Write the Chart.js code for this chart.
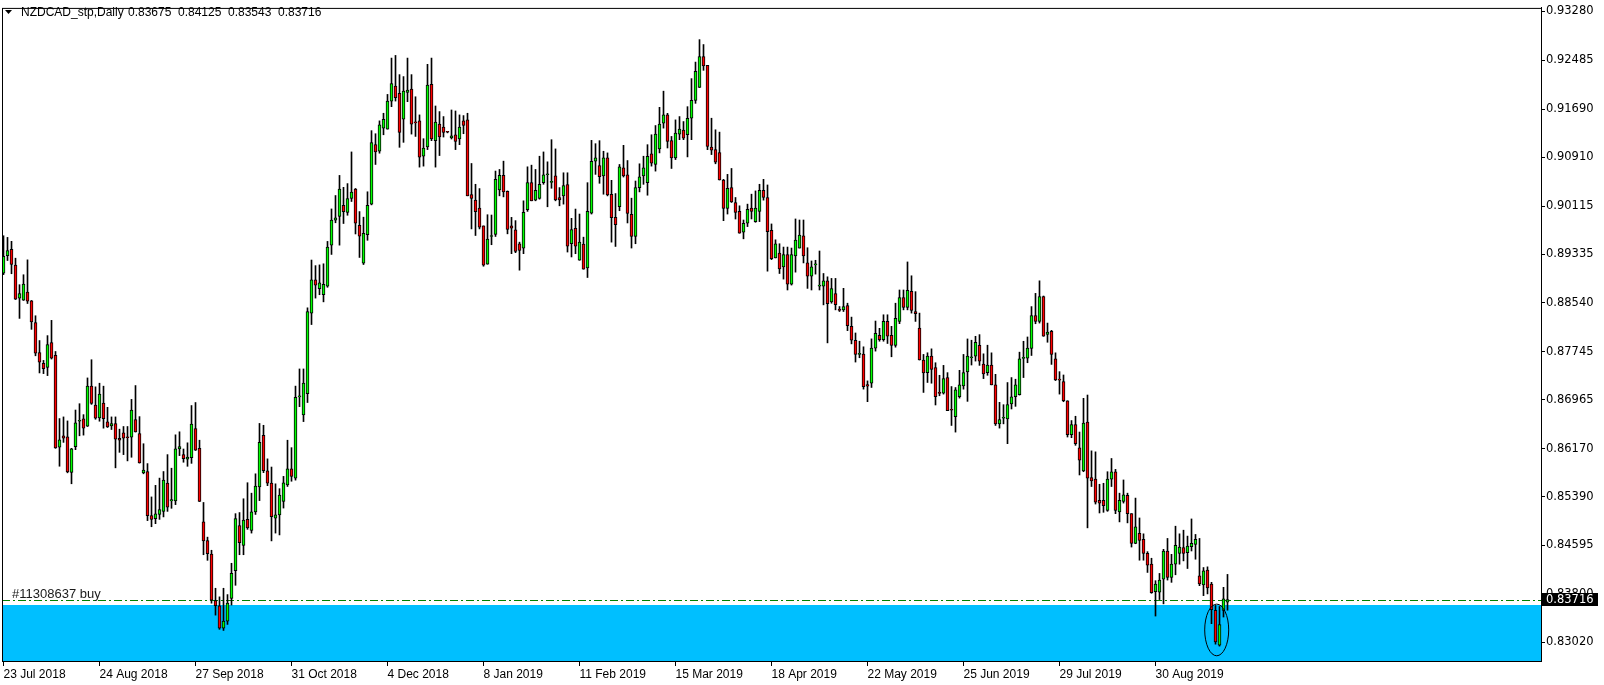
<!DOCTYPE html>
<html>
<head>
<meta charset="utf-8">
<title>NZDCAD_stp,Daily</title>
<script src="https://cdn.jsdelivr.net/npm/chart.js@4.4.1/dist/chart.umd.min.js"></script>
<style>
  html, body { margin: 0; padding: 0; background: #ffffff; }
  canvas { display: block; }
</style>
</head>
<body>
<canvas id="chart" width="1604" height="685"></canvas>
<script>
// Window title and the OHLC of the last bar
var symbolTitle = 'NZDCAD_stp,Daily';
var lastBarText = ['0.83675', '0.84125', '0.83543', '0.83716'];

// Daily candles from 23 Jul 2018 onwards
var openPrices = [
  0.89025,0.89310,0.89412,0.89154,0.88616,0.88584,0.88718,0.88573,0.88218,0.87734,
  0.87557,0.87492,0.87895,0.87686,0.86196,0.86379,0.86363,0.85782,0.86202,0.86616,
  0.86653,0.86535,0.87186,0.86879,0.86670,0.86911,0.86605,0.86540,0.86578,0.86336,
  0.86427,0.86363,0.86357,0.86643,0.86417,0.85777,0.85798,0.85080,0.85030,0.85100,
  0.85150,0.85610,0.85320,0.85320,0.86164,0.86073,0.85998,0.86022,0.86495,0.86174,
  0.84979,0.84676,0.84457,0.83700,0.83615,0.83250,0.83366,0.83736,0.84185,0.84919,
  0.84597,0.85022,0.84840,0.85143,0.85549,0.86386,0.85810,0.85610,0.85040,0.85094,
  0.85313,0.85580,0.85840,0.85689,0.87011,0.86720,0.87066,0.88375,0.88915,0.88770,
  0.88673,0.88812,0.89479,0.89886,0.89946,0.90128,0.90013,0.90237,0.90389,0.89801,
  0.89188,0.89649,0.90146,0.91113,0.91006,0.91382,0.91366,0.91822,0.92064,0.91946,
  0.91527,0.91962,0.92016,0.91479,0.91500,0.90925,0.91076,0.92096,0.91178,0.91446,
  0.91398,0.91319,0.91221,0.91274,0.91205,0.91500,0.91516,0.90302,0.90211,0.90082,
  0.89792,0.89169,0.89620,0.89652,0.90377,0.90614,0.90356,0.89792,0.89727,0.89502,
  0.89432,0.90055,0.90495,0.90211,0.90238,0.90495,0.90624,0.90501,0.90608,0.90254,
  0.90280,0.90463,0.89502,0.89754,0.89233,0.89496,0.89109,0.90001,0.90844,0.90775,
  0.90603,0.90898,0.90307,0.89931,0.90103,0.90737,0.90624,0.89980,0.89620,0.90415,
  0.90603,0.90495,0.90963,0.90791,0.91043,0.91462,0.91597,0.91178,0.90898,0.91285,
  0.91349,0.91274,0.91543,0.91833,0.92042,0.92547,0.92402,0.91075,0.91032,0.90984,
  0.90538,0.90076,0.90415,0.90173,0.90028,0.89689,0.89835,0.90082,0.89862,0.90028,
  0.90372,0.90254,0.89722,0.89271,0.89351,0.89126,0.89324,0.88846,0.89303,0.89432,
  0.89631,0.89190,0.88975,0.89158,0.88814,0.88814,0.88900,0.88556,0.88691,0.88438,
  0.88427,0.88497,0.88159,0.87933,0.87702,0.87707,0.87213,0.87235,0.87804,0.88014,
  0.87944,0.88239,0.88014,0.87847,0.88239,0.88626,0.88465,0.88728,0.88400,0.88132,
  0.87611,0.87407,0.87675,0.87487,0.87078,0.87073,0.87326,0.86804,0.86692,0.87014,
  0.87191,0.87417,0.87648,0.87675,0.87852,0.87546,0.87406,0.87530,0.87207,0.86573,
  0.86665,0.86654,0.86896,0.87014,0.87046,0.87637,0.87642,0.87798,0.88335,0.88239,
  0.88642,0.88029,0.88078,0.87632,0.87293,0.87261,0.86949,0.86396,0.86563,0.86182,
  0.85806,0.86601,0.85699,0.85677,0.85328,0.85328,0.85167,0.85672,0.85795,0.85140,
  0.85312,0.85409,0.85113,0.84630,0.84791,0.84694,0.84468,0.84291,0.83845,0.83835,
  0.84049,0.84506,0.84076,0.84291,0.84468,0.84560,0.84479,0.84576,0.84613,0.84103,
  0.83953,0.84194,0.83969,0.83539,0.82975,0.83539,0.83675
];
var highPrices = [
  0.89632,0.89605,0.89541,0.89267,0.88836,0.88998,0.89240,0.88580,0.88331,0.87928,
  0.87605,0.88008,0.88256,0.87750,0.86659,0.86686,0.86621,0.86175,0.86798,0.86901,
  0.86723,0.87320,0.87616,0.87175,0.87234,0.87186,0.86842,0.86686,0.86686,0.86487,
  0.86530,0.86530,0.86971,0.87196,0.86691,0.86250,0.85927,0.85385,0.85573,0.85691,
  0.85798,0.86073,0.85852,0.86395,0.86444,0.86164,0.86265,0.86871,0.86920,0.86307,
  0.85295,0.84731,0.84518,0.83900,0.83760,0.83900,0.83797,0.84306,0.85113,0.85131,
  0.85355,0.85616,0.85446,0.85761,0.86580,0.86550,0.86004,0.85871,0.85598,0.85519,
  0.85719,0.86307,0.86186,0.87187,0.87466,0.87466,0.88460,0.89237,0.89146,0.89158,
  0.89176,0.89540,0.90068,0.90286,0.90613,0.90419,0.90480,0.90995,0.90401,0.90025,
  0.89934,0.90347,0.91341,0.91291,0.91500,0.91624,0.91930,0.92521,0.92564,0.92252,
  0.92220,0.92521,0.92252,0.91892,0.91597,0.91210,0.92419,0.92521,0.91742,0.91651,
  0.91570,0.91330,0.91677,0.91661,0.91597,0.91586,0.91624,0.90807,0.90469,0.90399,
  0.89792,0.89974,0.89969,0.90684,0.90710,0.90845,0.90361,0.89931,0.89878,0.89528,
  0.90200,0.90753,0.90780,0.90710,0.90925,0.90995,0.90834,0.91194,0.91044,0.90415,
  0.90656,0.90656,0.89915,0.90066,0.89985,0.89609,0.90495,0.91183,0.91129,0.91178,
  0.91006,0.90979,0.90533,0.90318,0.90791,0.91102,0.90855,0.90243,0.90522,0.90802,
  0.90925,0.91113,0.91274,0.91424,0.91720,0.91983,0.91623,0.91247,0.91516,0.91570,
  0.91489,0.91731,0.92187,0.92456,0.92821,0.92741,0.92402,0.91543,0.91355,0.91317,
  0.90549,0.90630,0.90726,0.90254,0.90119,0.89888,0.90146,0.90308,0.90361,0.90469,
  0.90549,0.90458,0.89824,0.89566,0.89502,0.89448,0.89448,0.89432,0.89905,0.89888,
  0.89888,0.89437,0.89222,0.89233,0.89384,0.89018,0.88964,0.88938,0.88938,0.88481,
  0.88777,0.88535,0.88309,0.88051,0.87917,0.87826,0.87272,0.87955,0.88245,0.88127,
  0.88347,0.88347,0.88159,0.88535,0.88750,0.88750,0.89206,0.88981,0.88723,0.88374,
  0.87702,0.87729,0.87793,0.87567,0.87363,0.87524,0.87406,0.87180,0.87164,0.87444,
  0.87702,0.87954,0.87933,0.87997,0.88024,0.87712,0.87852,0.87728,0.87379,0.86923,
  0.86885,0.87245,0.87326,0.87299,0.87739,0.87916,0.87986,0.88480,0.88695,0.88899,
  0.88652,0.88212,0.88094,0.87728,0.87422,0.87368,0.86949,0.86627,0.86697,0.86440,
  0.86988,0.87042,0.86134,0.86118,0.85591,0.85607,0.85795,0.86010,0.85833,0.85446,
  0.85661,0.85446,0.85113,0.85366,0.85043,0.84785,0.84495,0.84388,0.84023,0.84141,
  0.84533,0.84710,0.84452,0.84909,0.84785,0.84844,0.84748,0.85027,0.84775,0.84710,
  0.84237,0.84248,0.83996,0.83620,0.83603,0.83915,0.84125
];
var lowPrices = [
  0.89000,0.89229,0.89014,0.88595,0.88288,0.88580,0.88530,0.88110,0.87680,0.87401,
  0.87390,0.87358,0.87627,0.86175,0.85884,0.86272,0.85777,0.85599,0.86153,0.86379,
  0.86390,0.86530,0.86890,0.86648,0.86616,0.86503,0.86514,0.86481,0.85858,0.86110,
  0.86073,0.85971,0.86030,0.86440,0.85935,0.85761,0.85000,0.84900,0.84950,0.85020,
  0.85060,0.85150,0.85200,0.85260,0.86057,0.85949,0.85883,0.85931,0.86140,0.85310,
  0.84445,0.84354,0.83657,0.83463,0.83232,0.83214,0.83312,0.83627,0.83948,0.84445,
  0.84445,0.84858,0.84797,0.85100,0.85325,0.85780,0.85568,0.84670,0.84797,0.84767,
  0.85204,0.85555,0.85640,0.85658,0.86853,0.86610,0.86920,0.88188,0.88618,0.88673,
  0.88557,0.88794,0.89328,0.89843,0.89479,0.89831,0.89965,0.90189,0.89661,0.89279,
  0.89164,0.89558,0.90134,0.90791,0.90974,0.91274,0.91366,0.91731,0.91822,0.91070,
  0.91151,0.91812,0.91285,0.91247,0.90748,0.90764,0.91033,0.91178,0.90748,0.90936,
  0.91237,0.91305,0.91205,0.91033,0.91113,0.91291,0.90281,0.89743,0.89636,0.89743,
  0.89136,0.89169,0.89486,0.89620,0.90281,0.90264,0.89663,0.89341,0.89357,0.89072,
  0.89341,0.90028,0.90200,0.90200,0.90227,0.90469,0.90103,0.90404,0.90200,0.90119,
  0.90146,0.89367,0.89287,0.89340,0.89233,0.89088,0.88953,0.89985,0.90630,0.90485,
  0.90307,0.90280,0.89528,0.89458,0.90039,0.90587,0.89840,0.89432,0.89502,0.90345,
  0.90468,0.90291,0.90764,0.90683,0.90979,0.91382,0.91059,0.90726,0.90871,0.91194,
  0.91194,0.90914,0.91194,0.91785,0.92042,0.92322,0.91032,0.90952,0.90802,0.90538,
  0.89877,0.89985,0.90173,0.89904,0.89673,0.89582,0.89781,0.89905,0.89851,0.89862,
  0.90211,0.89056,0.89244,0.89271,0.89018,0.88927,0.88750,0.88830,0.89040,0.89432,
  0.89190,0.88776,0.88750,0.89008,0.88750,0.88508,0.87890,0.88535,0.88427,0.88400,
  0.88400,0.88089,0.87874,0.87578,0.87648,0.87138,0.86934,0.87165,0.87756,0.87917,
  0.87917,0.87880,0.87664,0.87820,0.88202,0.88427,0.88427,0.88374,0.88239,0.87611,
  0.87084,0.87246,0.87234,0.86880,0.87030,0.87057,0.86788,0.86547,0.86439,0.86992,
  0.87137,0.86939,0.87530,0.87594,0.87524,0.87309,0.87363,0.87207,0.86547,0.86504,
  0.86573,0.86251,0.86815,0.86858,0.87041,0.87326,0.87567,0.87685,0.88201,0.88212,
  0.87997,0.87900,0.87540,0.87277,0.87057,0.86933,0.86359,0.86348,0.86224,0.85742,
  0.85795,0.84882,0.85554,0.85269,0.85124,0.85135,0.85151,0.85554,0.85113,0.84979,
  0.85285,0.84963,0.84570,0.84624,0.84356,0.84356,0.84157,0.83818,0.83448,0.83716,
  0.83646,0.84033,0.83996,0.84119,0.84291,0.84345,0.84221,0.84506,0.84372,0.83942,
  0.83780,0.83808,0.83324,0.82991,0.82959,0.83432,0.83543
];
var closePrices = [
  0.89299,0.89390,0.89164,0.88600,0.88691,0.88847,0.88568,0.88229,0.87723,0.87578,
  0.87471,0.87863,0.87643,0.86180,0.86315,0.86341,0.85793,0.86169,0.86589,0.86621,
  0.86503,0.87186,0.86906,0.86664,0.87057,0.86659,0.86524,0.86578,0.86325,0.86309,
  0.86341,0.86347,0.86798,0.86444,0.85938,0.85820,0.85080,0.85020,0.85110,0.85180,
  0.85659,0.85220,0.85340,0.86169,0.86202,0.86008,0.86034,0.86568,0.86144,0.85313,
  0.84670,0.84464,0.83706,0.83615,0.83250,0.83366,0.83657,0.84142,0.85034,0.84640,
  0.85009,0.84882,0.85143,0.85561,0.86271,0.85810,0.85610,0.85064,0.85094,0.85416,
  0.85616,0.85840,0.85719,0.87005,0.87023,0.87235,0.88400,0.88915,0.88830,0.88867,
  0.88842,0.89449,0.89886,0.89922,0.90389,0.90025,0.90237,0.90341,0.89837,0.89625,
  0.89673,0.90128,0.91147,0.90995,0.91436,0.91527,0.91822,0.92107,0.91876,0.91312,
  0.91984,0.92000,0.91446,0.91468,0.90909,0.91059,0.92080,0.91205,0.91479,0.91237,
  0.91312,0.91315,0.91258,0.91167,0.91398,0.91425,0.90281,0.90238,0.90023,0.89770,
  0.89153,0.89577,0.89631,0.90549,0.90614,0.90345,0.89733,0.89754,0.89378,0.89394,
  0.90012,0.90495,0.90200,0.90372,0.90469,0.90624,0.90630,0.90512,0.90216,0.90216,
  0.90447,0.89464,0.89733,0.89464,0.89528,0.89088,0.90028,0.90844,0.90898,0.90592,
  0.90898,0.90297,0.89926,0.89813,0.90753,0.90603,0.89996,0.89620,0.90415,0.90592,
  0.90737,0.90925,0.90812,0.91285,0.91446,0.91597,0.91167,0.90898,0.91301,0.91365,
  0.91220,0.91543,0.91833,0.92306,0.92547,0.92392,0.91086,0.91022,0.90828,0.90538,
  0.90076,0.90404,0.90184,0.90012,0.89673,0.89834,0.90060,0.90028,0.90082,0.90372,
  0.90254,0.89700,0.89260,0.89502,0.89093,0.89324,0.88846,0.89324,0.89561,0.89641,
  0.89303,0.88975,0.89126,0.89169,0.88825,0.88900,0.88529,0.88771,0.88513,0.88417,
  0.88481,0.88169,0.87933,0.87702,0.87713,0.87176,0.87186,0.87804,0.88046,0.87944,
  0.88239,0.87998,0.87847,0.88288,0.88626,0.88465,0.88744,0.88417,0.88363,0.87611,
  0.87401,0.87675,0.87460,0.87014,0.87068,0.87309,0.86788,0.86794,0.87127,0.87207,
  0.87406,0.87675,0.87659,0.87900,0.87594,0.87385,0.87530,0.87207,0.86573,0.86643,
  0.86675,0.86885,0.87014,0.87207,0.87632,0.87648,0.87804,0.88335,0.88239,0.88642,
  0.87997,0.88067,0.87702,0.87288,0.87283,0.86949,0.86396,0.86563,0.86251,0.85983,
  0.86585,0.85688,0.85645,0.85301,0.85285,0.85242,0.85677,0.85795,0.85167,0.85328,
  0.85419,0.85113,0.84630,0.84898,0.84678,0.84468,0.84275,0.83829,0.83969,0.84033,
  0.84506,0.84076,0.84291,0.84597,0.84570,0.84468,0.84586,0.84630,0.84694,0.83969,
  0.84184,0.83904,0.83550,0.83029,0.83308,0.83727,0.83716
];

// Time axis labels, one every 24 bars
var dateLabels = ['23 Jul 2018', '24 Aug 2018', '27 Sep 2018', '31 Oct 2018', '4 Dec 2018',
  '8 Jan 2019', '11 Feb 2019', '15 Mar 2019', '18 Apr 2019', '22 May 2019',
  '25 Jun 2019', '29 Jul 2019', '30 Aug 2019'];
var dateStep = 24;

// Price scale labels
var priceTicks = [0.93280, 0.92485, 0.91690, 0.90910, 0.90115, 0.89335, 0.88540,
  0.87745, 0.86965, 0.86170, 0.85390, 0.84595, 0.83800, 0.83020];

// Trade objects on the chart
var orderTicket = '#11308637 buy';
var orderPrice = 0.83712;
var zoneTop = 0.83624;
var bidPrice = 0.83716;

// Circle round the two lowest candles
var circleBar = 303.3;
var circlePrice = 0.83222;
var circleHalfBars = 3;
var circleHalfPrice = 0.0042;

var upColor = '#00ff00';
var downColor = '#ff0000';

var barIndex = closePrices.map(function (c, i) { return i; });
var bodyData = barIndex.map(function (i) { return { x: i, y: [openPrices[i], closePrices[i]] }; });
var wickData = barIndex.map(function (i) { return { x: i, y: [lowPrices[i], highPrices[i]] }; });
var bodyColors = barIndex.map(function (i) { return closePrices[i] >= openPrices[i] ? upColor : downColor; });

// Zone, order line, circle, header and bid label, drawn like the terminal does
var terminalObjects = {
  id: 'terminalObjects',
  beforeDatasetsDraw: function (chart) {
    var c = chart.ctx, a = chart.chartArea, y = chart.scales.y;
    c.save();
    var zy = Math.round(y.getPixelForValue(zoneTop));
    c.fillStyle = '#00bfff';
    c.fillRect(a.left, zy, a.right - a.left, a.bottom - zy);

    var oy = Math.round(y.getPixelForValue(orderPrice)) + 0.5;
    c.strokeStyle = '#008000';
    c.lineWidth = 1;
    c.setLineDash([8, 3, 2, 3]);
    c.beginPath();
    c.moveTo(a.left, oy);
    c.lineTo(a.right, oy);
    c.stroke();
    c.setLineDash([]);

    c.fillStyle = '#1a1a1a';
    c.font = '13px "Liberation Sans", Arial, sans-serif';
    c.textBaseline = 'alphabetic';
    c.fillText(orderTicket, a.left + 10, oy - 2.5);
    c.restore();
  },
  afterDatasetsDraw: function (chart) {
    var c = chart.ctx, x = chart.scales.x, y = chart.scales.y;
    var cx = x.getPixelForValue(circleBar);
    var cy = y.getPixelForValue(circlePrice);
    var rx = x.getPixelForValue(circleBar + circleHalfBars) - cx;
    var ry = y.getPixelForValue(circlePrice - circleHalfPrice) - cy;
    c.save();
    c.strokeStyle = '#000000';
    c.lineWidth = 1;
    c.beginPath();
    c.ellipse(cx, cy, rx, ry, 0, 0, Math.PI * 2);
    c.stroke();
    c.restore();
  },
  afterDraw: function (chart) {
    var c = chart.ctx, a = chart.chartArea, y = chart.scales.y;
    c.save();
    c.strokeStyle = '#000000';
    c.lineWidth = 1;
    c.strokeRect(a.left + 0.5, a.top + 0.5, a.right - a.left, a.bottom - a.top);

    c.fillStyle = '#000000';
    c.beginPath();
    c.moveTo(5, 10);
    c.lineTo(12, 10);
    c.lineTo(8.5, 14);
    c.closePath();
    c.fill();
    c.font = '12px "Liberation Sans", Arial, sans-serif';
    c.textBaseline = 'middle';
    c.fillText(symbolTitle, 21, 13);
    lastBarText.forEach(function (t, k) { c.fillText(t, 128 + k * 50, 13); });

    var by = Math.round(y.getPixelForValue(bidPrice));
    c.fillStyle = '#000000';
    c.fillRect(a.right + 1, by - 7, 56, 13);
    c.fillStyle = '#ffffff';
    c.font = '11.5px "DejaVu Sans", sans-serif';
    c.fillText(bidPrice.toFixed(5), a.right + 5, by);
    c.restore();
  }
};

var ctx = document.getElementById('chart').getContext('2d');
var chart = new Chart(ctx, {
  type: 'bar',
  data: {
    datasets: [
      {
        label: 'body',
        data: bodyData,
        backgroundColor: bodyColors,
        borderColor: '#000000',
        borderWidth: 1,
        borderSkipped: false,
        barThickness: 3,
        minBarLength: 1,
        grouped: false,
        order: 0
      },
      {
        label: 'wick',
        data: wickData,
        backgroundColor: '#000000',
        borderWidth: 0,
        barThickness: 1,
        minBarLength: 1,
        grouped: false,
        order: 1
      }
    ]
  },
  options: {
    responsive: false,
    animation: false,
    devicePixelRatio: 1,
    layout: { padding: { left: 2, top: 2, right: 0, bottom: 0 } },
    plugins: {
      legend: { display: false },
      tooltip: { enabled: false }
    },
    scales: {
      x: {
        type: 'linear',
        min: -0.375,
        max: 384.375,
        offset: false,
        grid: { drawOnChartArea: false, drawTicks: true, tickLength: 5, color: '#000000', offset: false },
        border: { display: true, color: '#000000' },
        afterBuildTicks: function (scale) {
          scale.ticks = dateLabels.map(function (d, k) { return { value: k * dateStep }; });
        },
        afterFit: function (scale) { scale.height = 24; },
        ticks: {
          autoSkip: false,
          maxRotation: 0,
          minRotation: 0,
          align: 'start',
          padding: 1,
          color: '#000000',
          font: { family: '"Liberation Sans", Arial, sans-serif', size: 12 },
          callback: function (v, k) { return dateLabels[k]; }
        }
      },
      y: {
        type: 'linear',
        position: 'right',
        min: 0.82717,
        max: 0.93337,
        bounds: 'data',
        grid: { drawOnChartArea: false, tickLength: 4, color: '#000000' },
        border: { display: true, color: '#000000' },
        afterBuildTicks: function (scale) {
          scale.ticks = priceTicks.map(function (v) { return { value: v }; });
        },
        afterFit: function (scale) { scale.width = 63; },
        ticks: {
          autoSkip: false,
          padding: 1,
          color: '#000000',
          font: { family: '"DejaVu Sans", sans-serif', size: 11.5 },
          callback: function (v) { return v.toFixed(5); }
        }
      }
    }
  },
  plugins: [terminalObjects]
});
</script>
</body>
</html>
